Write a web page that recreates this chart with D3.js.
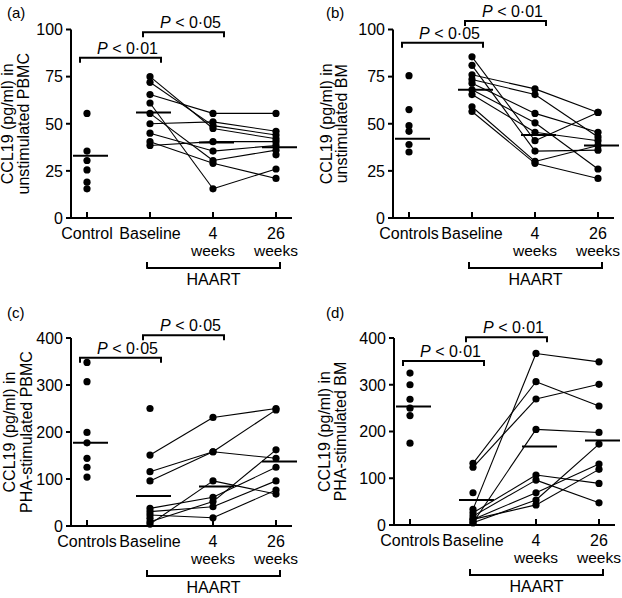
<!DOCTYPE html>
<html>
<head>
<meta charset="utf-8">
<script src="https://cdn.jsdelivr.net/npm/d3@7"></script>
<style>
  html, body { margin: 0; padding: 0; background: #fff; }
  text { font-family: "Liberation Sans", Arial, Helvetica, sans-serif; fill: #000; }
</style>
</head>
<body>
<svg id="chart" width="622" height="598"></svg>
<script>
// ---------- data ----------
const groups = ["Control", "Baseline", "4 weeks", "26 weeks"];
const groupLabelsA = [["Control"], ["Baseline"], ["4", "weeks"], ["26", "weeks"]];
const groupLabelsB = [["Controls"], ["Baseline"], ["4", "weeks"], ["26", "weeks"]];

const ticksLow = [0, 25, 50, 75, 100];
const ticksHigh = [0, 100, 200, 300, 400];

// Panel (a): unstimulated PBMC
const aControl  = [55.5, 35.5, 30.5, 25.5, 19, 15.5];
const aBaseline = [75, 72, 65.5, 61, 55.5, 50, 45, 40.5, 38.5, null];
const aWeek4    = [47.5, 49, 55.5, 15.5, 30.5, 51, 35.5, 29, 40.5, null];
const aWeek26   = [42, 44, 55.5, 26, 36, 46, 38.5, 21, 40.5, 33.5];
const aMedians  = [33, 56, 40, 37.5];
const aPvalues  = ["0·01", "0·05"];

// Panel (b): unstimulated BM
const bControl  = [75.5, 57.5, 49, 46, 39, 35];
const bBaseline = [85.5, 81, 76, 73.5, 71.5, 68, 65.5, 59, 56.5];
const bWeek4    = [41, 35.5, 68.5, 65.5, 55.5, 50.5, 45.5, 30, 29];
const bWeek26   = [56, 36, 56, 43, 45.5, 26, 41, 38.5, 21];
const bMedians  = [42, 68, 44, 38.5];
const bPvalues  = ["0·05", "0·01"];

// Panel (c): PHA-stimulated PBMC
const cControl  = [348, 307, 199, 177, 144, 125, 104];
const cBaseline = [151, 115.5, 96, 4, 9, 37.5, 30.5, 23.5, 16.5, 250];
const cWeek4    = [231, 158, 158, 96, 52, 61, 41, 17.5, null, null];
const cWeek26   = [250, 247, 144, 68, 162, 125, 96, 76.5, null, null];
const cMedians  = [177, 64, 84, 137];
const cPvalues  = ["0·05", "0·05"];

// Panel (d): PHA-stimulated BM
const dControl  = [325, 300, 269, 250, 234, 175];
const dBaseline = [132, 123.5, 33.5, 5, 26, 19, 12, 5, 12, 69];
const dWeek4    = [306.5, 269.5, 367, 204.5, 107, 96, 69, 53.5, 43, null];
const dWeek26   = [254.5, 301, 349, 198, 89, 47.5, 130.5, 173, 119, null];
const dMedians  = [253.5, 53.5, 168, 181];
const dPvalues  = ["0·01", "0·01"];

// ---------- layout ----------
const panels = [
  { tag: "(a)", tagX: 7, tagY: 18, axisX: 71, y0: 218, yTop: 29.5, max: 100, ticks: ticksLow,
    labels: groupLabelsA, title: ["CCL19 (pg/ml) in", "unstimulated PBMC"], titleX: [-58, -42],
    control: aControl, base: aBaseline, w4: aWeek4, w26: aWeek26, medians: aMedians,
    pvals: aPvalues, bracketY: [85, 98.5] },
  { tag: "(b)", tagX: 326, tagY: 18, axisX: 393, y0: 218, yTop: 29.5, max: 100, ticks: ticksLow,
    labels: groupLabelsB, title: ["CCL19 (pg/ml) in", "unstimulated BM"], titleX: [-61, -46],
    control: bControl, base: bBaseline, w4: bWeek4, w26: bWeek26, medians: bMedians,
    pvals: bPvalues, bracketY: [93, 104.5] },
  { tag: "(c)", tagX: 7, tagY: 318, axisX: 71, y0: 526, yTop: 338, max: 400, ticks: ticksHigh,
    labels: groupLabelsB, title: ["CCL19 (pg/ml) in", "PHA-stimulated PBMC"], titleX: [-56, -39],
    control: cControl, base: cBaseline, w4: cWeek4, w26: cWeek26, medians: cMedians,
    pvals: cPvalues, bracketY: [358, 406] },
  { tag: "(d)", tagX: 326, tagY: 318, axisX: 394, y0: 525, yTop: 338, max: 400, ticks: ticksHigh,
    labels: groupLabelsB, title: ["CCL19 (pg/ml) in", "PHA-stimulated BM"], titleX: [-64, -48],
    control: dControl, base: dBaseline, w4: dWeek4, w26: dWeek26, medians: dMedians,
    pvals: dPvalues, bracketY: [351, 401.5] }
];

const svg = d3.select("#chart");
svg.append("rect").attr("width", 622).attr("height", 598).attr("fill", "#fff");

function drawPanel(p) {
  const g = svg.append("g");
  const x = d3.scalePoint().domain(groups).range([p.axisX + 16, p.axisX + 205]);
  const y = d3.scaleLinear().domain([0, p.max]).range([p.y0, p.yTop]);

  // panel tag
  g.append("text").attr("x", p.tagX).attr("y", p.tagY).attr("font-size", 15).text(p.tag);

  // y axis
  g.append("line").attr("x1", p.axisX).attr("x2", p.axisX)
    .attr("y1", y(0) + 1).attr("y2", y(p.max))
    .attr("stroke", "#000").attr("stroke-width", 2);
  p.ticks.forEach(t => {
    g.append("line").attr("x1", p.axisX - 5).attr("x2", p.axisX)
      .attr("y1", y(t)).attr("y2", y(t)).attr("stroke", "#000").attr("stroke-width", 2);
    g.append("text").attr("x", p.axisX - 8).attr("y", y(t)).attr("dy", "0.36em")
      .attr("text-anchor", "end").attr("font-size", 16).text(t);
  });

  // x axis
  g.append("line").attr("x1", p.axisX - 1).attr("x2", p.axisX + 221)
    .attr("y1", y(0)).attr("y2", y(0)).attr("stroke", "#000").attr("stroke-width", 2);
  groups.forEach((c, i) => {
    g.append("line").attr("x1", x(c)).attr("x2", x(c))
      .attr("y1", y(0)).attr("y2", y(0) - 6).attr("stroke", "#000").attr("stroke-width", 2);
    p.labels[i].forEach((s, j) => {
      g.append("text").attr("x", x(c)).attr("y", y(0) + 20.5 + j * 17.5)
        .attr("text-anchor", "middle").attr("font-size", j === 0 ? 16 : 15.5).text(s);
    });
  });

  // y title
  const cy = (y(0) + y(p.max)) / 2;
  p.title.forEach((s, j) => {
    g.append("text")
      .attr("transform", `translate(${p.axisX + p.titleX[j]},${cy}) rotate(-90)`)
      .attr("text-anchor", "middle").attr("font-size", 16).text(s);
  });

  // HAART bracket
  const hx1 = x("Baseline") - 3, hx2 = x("26 weeks") + 4, hy = y(0) + 50;
  g.append("path").attr("d", `M${hx1},${hy - 6}V${hy}H${hx2}V${hy - 6}`)
    .attr("fill", "none").attr("stroke", "#000").attr("stroke-width", 2);
  g.append("text").attr("x", (hx1 + hx2) / 2).attr("y", y(0) + 67)
    .attr("text-anchor", "middle").attr("font-size", 16).text("HAART");

  // significance brackets
  const pairs = [["Control", "Baseline"], ["Baseline", "4 weeks"]];
  pairs.forEach((pr, k) => {
    const bx1 = x(pr[0]) - 7, bx2 = x(pr[1]) + 11, by = y(p.bracketY[k]);
    g.append("path").attr("d", `M${bx1},${by + 5}V${by}H${bx2}V${by + 5}`)
      .attr("fill", "none").attr("stroke", "#000").attr("stroke-width", 2);
    const t = g.append("text").attr("x", (bx1 + bx2) / 2 + 7).attr("y", by - 4)
      .attr("text-anchor", "middle").attr("font-size", 16);
    t.append("tspan").attr("font-style", "italic").text("P");
    t.append("tspan").text(" < " + p.pvals[k]);
  });

  // connecting lines for each subject
  const series = [p.base, p.w4, p.w26];
  const timeCats = ["Baseline", "4 weeks", "26 weeks"];
  const n = p.base.length;
  for (let s = 0; s < n; s++) {
    for (let k = 0; k < 2; k++) {
      const v1 = series[k][s], v2 = series[k + 1][s];
      if (v1 != null && v2 != null) {
        g.append("line")
          .attr("x1", x(timeCats[k])).attr("y1", y(v1))
          .attr("x2", x(timeCats[k + 1])).attr("y2", y(v2))
          .attr("stroke", "#000").attr("stroke-width", 1.1);
      }
    }
  }

  // medians
  p.medians.forEach((m, i) => {
    const cx = x(groups[i]);
    g.append("line").attr("x1", cx - 14).attr("x2", cx + 21)
      .attr("y1", y(m)).attr("y2", y(m)).attr("stroke", "#000").attr("stroke-width", 2);
  });

  // dots
  const allDots = [];
  p.control.forEach(v => allDots.push([groups[0], v]));
  series.forEach((arr, k) => arr.forEach(v => { if (v != null) allDots.push([timeCats[k], v]); }));
  g.selectAll("circle.dot").data(allDots).enter().append("circle")
    .attr("class", "dot").attr("cx", d => x(d[0])).attr("cy", d => y(d[1]))
    .attr("r", 3.6).attr("fill", "#000");
}

panels.forEach(drawPanel);
</script>
</body>
</html>
